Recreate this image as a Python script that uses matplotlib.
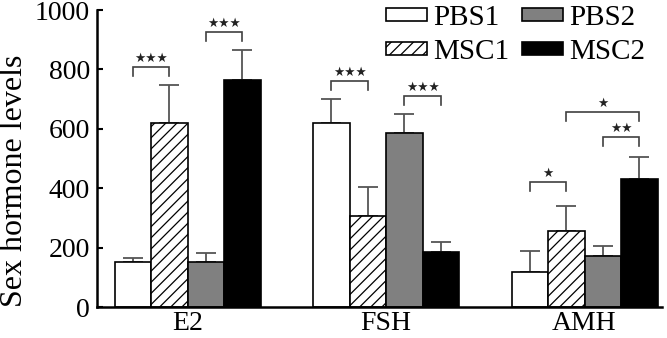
import matplotlib
matplotlib.use("Agg")
import matplotlib.pyplot as plt
import numpy as np

categories = ["E2", "FSH", "AMH"]
series = ["PBS1", "MSC1", "PBS2", "MSC2"]
pbs1 = [150, 620, 118]
msc1 = [620, 307, 255]
pbs2 = [150, 585, 172]
msc2 = [765, 185, 430]
pbs1_err = [15, 80, 72]
msc1_err = [128, 98, 85]
pbs2_err = [33, 65, 33]
msc2_err = [100, 35, 75]
yticks = [0, 200, 400, 600, 800, 1000]

# significance brackets: (group, series index a, series index b, y, label)
sig_group = [0, 0, 1, 1, 2, 2, 2]
sig_a = [0, 2, 0, 2, 0, 2, 1]
sig_b = [1, 3, 1, 3, 1, 3, 3]
sig_y = [808, 925, 761, 710, 421, 572, 657]
sig_label = ["★★★", "★★★", "★★★", "★★★", "★", "★★", "★"]

plt.rcParams['font.family'] = ['Liberation Serif', 'DejaVu Sans']

fig = plt.figure(figsize=(6.67, 3.38), dpi=100)
ax = fig.add_axes([0.1454, 0.0917, 0.847, 0.8787])

values = [pbs1, msc1, pbs2, msc2]
errs = [pbs1_err, msc1_err, pbs2_err, msc2_err]
styles = [
    dict(facecolor="white", hatch=None),
    dict(facecolor="white", hatch="///"),
    dict(facecolor="#808080", hatch=None),
    dict(facecolor="black", hatch=None),
]
w = 0.184
x = np.arange(len(categories))
offsets = [-1.5 * w, -0.5 * w, 0.5 * w, 1.5 * w]
handles = []
plt.rcParams['hatch.color'] = '#555555'
plt.rcParams['hatch.linewidth'] = 0.9
for i in range(4):
    b = ax.bar(x + offsets[i], values[i], width=w, edgecolor="black", linewidth=1.2,
               label=series[i], zorder=2, **styles[i])
    handles.append(b)
    ax.errorbar(x + offsets[i], values[i], yerr=[np.zeros(3), errs[i]], fmt="none",
                ecolor="#555555", elinewidth=1.3, capsize=7, capthick=1.3, zorder=1)

tick_h = 30
for g, a, bb, y, lab in zip(sig_group, sig_a, sig_b, sig_y, sig_label):
    xa = x[g] + offsets[a]
    xb = x[g] + offsets[bb]
    ax.plot([xa, xa, xb, xb], [y - tick_h, y, y, y - tick_h], color="#404040", lw=1.2,
            solid_joinstyle="miter", zorder=3)
    ax.text((xa + xb) / 2, y + 8, lab, ha="center", va="bottom", fontsize=9,
            family="DejaVu Sans", color="#222222")

ax.set_xlim(-0.457, 2.39)
ax.set_ylim(0, 1000)
ax.set_yticks(yticks)
ax.set_yticklabels([str(v) for v in yticks], fontsize=20)
ax.set_xticks(x)
ax.set_xticklabels(categories, fontsize=20)
ax.tick_params(axis="x", length=0, pad=3)
ax.tick_params(axis="y", direction="in", length=4, width=1.5, pad=5)
ax.spines["top"].set_visible(False)
ax.spines["right"].set_visible(False)
ax.spines["left"].set_linewidth(1.8)
ax.spines["bottom"].set_linewidth(1.8)
ax.set_ylabel("Sex hormone levels", fontsize=23)
ax.yaxis.set_label_coords(-0.12, 0.424)

leg = fig.legend([handles[0], handles[1], handles[2], handles[3]],
                 ["PBS1", "MSC1", "PBS2", "MSC2"], ncol=2, frameon=False,
                 fontsize=21, loc="upper right", bbox_to_anchor=(0.968, 0.985),
                 handlelength=1.4, handleheight=0.3, handletextpad=0.22,
                 columnspacing=0.45, labelspacing=0.28, borderaxespad=0.0,
                 borderpad=0.0)

fig.savefig("out.png", dpi=100)
